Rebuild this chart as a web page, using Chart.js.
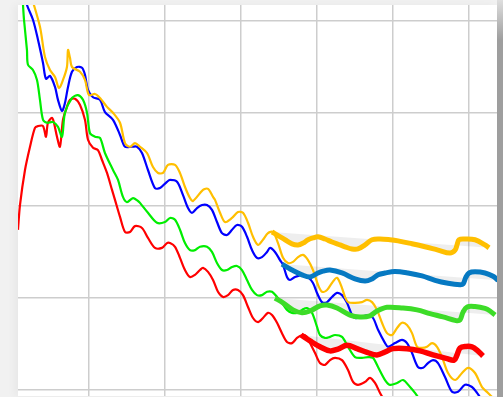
<!DOCTYPE html>
<html>
<head>
<meta charset="utf-8">
<script src="https://cdn.jsdelivr.net/npm/chart.js@4.4.1/dist/chart.umd.min.js"></script>
<style>
  html, body { margin: 0; padding: 0; }
  body { width: 503px; height: 397px; background: #f1f1f1; position: relative; overflow: hidden; }
  #edge { position: absolute; left: 497px; top: 0; width: 6px; height: 397px;
          background: linear-gradient(#dedede, #9e9e9e 40px, #9e9e9e); }
  #card { position: absolute; left: 18px; top: 5px; width: 479px; height: 391px; background: #fff;
          box-shadow: -4px 0 8px rgba(0,0,0,0.04); }
</style>
</head>
<body>
<div id="edge"></div>
<div id="card"><canvas id="lineChart" width="479" height="391"></canvas></div>
<script>
// grid positions
var xTicks = [10, 20, 30, 40, 50, 60];
var yTicks = [0, 25, 50, 75, 100];

// observed series [x, y]
var seriesYellow = [[2.41,107.0],[3.59,98.4],[4.25,90.2],[4.91,86.7],[5.57,84.8],[6.09,81.8],[6.62,84.0],[7.14,87.5],[7.28,92.1],[7.54,90.0],[7.80,87.5],[8.86,86.2],[9.51,84.0],[10.04,79.9],[10.83,80.2],[11.49,79.1],[12.41,76.7],[13.20,75.1],[14.12,72.4],[14.78,66.9],[15.43,65.9],[16.09,66.9],[16.75,65.9],[17.67,64.2],[18.46,60.4],[19.12,58.8],[19.78,58.8],[20.43,61.0],[21.36,61.0],[22.01,58.8],[22.67,55.0],[23.33,52.0],[23.72,51.2],[25.04,54.2],[25.70,54.5],[26.36,52.3],[26.62,51.5],[27.28,48.0],[27.93,45.5],[28.86,46.6],[29.64,48.2],[30.30,48.0],[30.96,45.3],[31.62,41.5],[32.28,39.3],[32.93,40.7],[33.59,42.5],[34.25,42.8],[34.91,39.8],[35.57,35.8],[36.22,34.4],[36.88,34.7],[37.54,36.0],[38.20,36.6],[38.86,35.2],[39.51,32.5],[40.17,28.5],[40.70,26.6],[41.36,27.1],[42.01,29.0],[42.67,30.4],[43.33,27.6],[43.72,25.2],[44.12,23.8],[45.04,23.6],[45.96,23.8],[46.62,24.4],[47.28,23.8],[47.93,21.7],[48.59,18.2],[49.25,15.4],[49.91,14.9],[50.57,16.8],[51.22,18.2],[51.88,17.6],[52.54,15.4],[53.20,11.7],[53.86,11.4],[54.51,11.7],[55.17,12.7],[55.83,11.7],[56.49,8.9],[57.28,4.6],[58.20,2.7],[59.12,4.6],[59.91,6.0],[60.83,4.6],[61.75,0.8],[62.54,-0.8],[63.46,-2.7]];
var seriesBlue = [[1.62,107.0],[1.88,104.3],[2.67,100.3],[3.33,94.9],[3.99,88.6],[4.38,84.3],[4.91,85.1],[5.57,82.1],[5.96,78.6],[6.49,75.6],[6.88,77.8],[7.28,82.1],[7.80,86.2],[8.46,87.5],[9.12,87.3],[9.51,85.4],[9.91,81.3],[10.57,79.3],[11.49,78.6],[12.14,75.3],[13.20,73.2],[14.12,69.1],[14.78,65.9],[15.70,65.9],[16.36,65.9],[17.01,64.2],[17.80,59.6],[18.72,54.7],[19.38,54.7],[20.30,56.4],[20.70,56.9],[21.62,56.4],[22.41,52.8],[23.07,49.3],[23.59,48.0],[24.25,49.3],[24.91,50.1],[25.57,50.1],[26.22,48.8],[26.88,45.5],[27.54,42.5],[28.20,42.0],[28.86,43.4],[29.51,44.7],[30.17,44.2],[30.83,41.5],[31.49,37.9],[32.14,35.8],[32.80,36.0],[33.46,37.4],[33.86,38.5],[34.51,37.4],[35.17,35.2],[35.57,33.9],[36.09,30.6],[36.49,29.8],[37.14,30.6],[38.20,31.2],[38.86,30.6],[39.51,29.0],[40.04,26.3],[40.70,23.8],[41.36,23.8],[42.01,25.2],[42.67,26.3],[43.33,25.7],[43.99,23.6],[44.64,20.3],[45.04,19.5],[45.96,19.8],[46.75,20.3],[47.41,19.5],[48.07,16.3],[48.99,12.7],[49.38,11.7],[50.30,12.7],[51.22,13.6],[51.88,12.7],[52.54,10.0],[53.33,6.2],[53.99,6.0],[54.64,7.3],[55.30,8.1],[55.96,7.3],[56.88,3.5],[57.80,-0.5],[58.59,-0.5],[59.51,1.4],[60.43,0.8],[61.09,-0.8],[61.75,-2.7]];
var seriesGreen = [[1.29,107.0],[1.36,104.3],[1.49,100.3],[1.88,92.1],[2.01,88.1],[2.67,86.7],[3.20,84.0],[3.59,78.6],[3.99,73.2],[4.51,72.4],[5.30,72.6],[5.96,71.3],[6.49,68.6],[6.88,75.1],[7.80,79.1],[8.59,79.9],[9.25,78.6],[9.78,75.1],[10.17,69.6],[10.83,68.6],[11.49,68.3],[12.14,64.2],[13.20,59.6],[13.86,56.9],[14.51,52.3],[15.04,50.9],[15.83,52.0],[16.49,51.2],[16.75,50.7],[17.80,48.0],[18.99,45.3],[20.04,45.5],[20.70,46.6],[21.36,46.1],[22.01,43.4],[22.67,39.8],[23.33,37.9],[23.99,37.9],[24.64,38.8],[25.57,38.8],[26.22,37.4],[26.88,34.4],[27.54,32.5],[28.20,32.5],[28.86,33.3],[29.51,33.6],[30.17,32.5],[30.83,29.8],[31.49,27.1],[32.14,25.7],[32.80,25.7],[33.46,26.6],[34.12,26.6],[34.78,25.2],[35.43,23.6],[36.09,21.7],[36.75,20.9],[37.41,20.9],[38.07,21.7],[38.72,22.2],[39.38,20.9],[40.04,17.1],[40.43,14.9],[41.09,14.1],[41.75,14.4],[42.41,14.9],[43.33,14.4],[44.12,11.7],[45.04,8.9],[45.96,8.7],[46.75,8.9],[47.41,8.7],[48.07,6.2],[48.99,2.7],[49.64,1.4],[50.57,1.9],[51.36,2.7],[52.28,0.8],[52.93,-0.8],[53.59,-2.7]];
var seriesRed = [[0.70,43.4],[0.96,50.1],[1.62,59.6],[2.28,65.9],[2.93,71.0],[3.33,71.5],[3.99,71.5],[4.38,68.6],[4.64,72.4],[5.17,73.7],[5.43,72.4],[5.83,68.6],[6.22,65.9],[6.62,73.2],[7.14,76.7],[7.54,78.6],[8.20,78.9],[8.86,77.2],[9.51,73.2],[9.91,67.8],[10.57,65.6],[11.22,65.0],[11.75,62.3],[12.41,58.8],[13.07,54.2],[13.46,51.5],[14.12,46.9],[14.78,42.8],[15.43,42.8],[16.09,44.4],[17.01,43.9],[17.80,41.2],[18.72,38.5],[19.64,38.5],[20.30,39.8],[20.70,39.8],[21.36,38.8],[22.01,35.8],[22.67,32.5],[23.33,30.6],[23.99,31.2],[24.64,32.5],[25.04,33.1],[25.70,32.0],[26.36,29.8],[27.01,26.6],[27.67,25.2],[28.33,25.7],[28.99,27.1],[29.64,27.1],[30.30,25.7],[30.96,22.5],[31.62,19.5],[32.28,18.4],[32.93,19.5],[33.59,20.9],[34.12,20.3],[34.78,18.2],[35.43,15.4],[36.09,13.0],[36.75,12.7],[37.41,14.1],[38.07,14.9],[38.72,14.4],[39.12,12.7],[39.78,10.0],[40.43,7.3],[41.09,6.8],[41.75,8.1],[42.41,8.7],[43.33,8.1],[44.12,5.4],[44.78,2.2],[45.43,1.4],[46.36,2.2],[47.01,3.3],[47.67,1.9],[48.33,-0.8],[48.86,-2.7]];

// forecast series [x, y]
var forecastYellow = [[34.12,42.8],[35.04,41.7],[35.83,40.7],[36.75,39.6],[37.54,39.3],[38.20,39.8],[38.86,40.7],[39.51,41.2],[40.17,41.5],[41.09,40.9],[42.01,40.1],[43.07,39.3],[43.72,38.8],[44.64,38.2],[45.43,38.2],[46.36,39.3],[47.28,40.7],[48.33,40.9],[49.64,40.7],[50.70,40.4],[52.54,39.6],[54.24,38.8],[55.96,37.9],[57.54,37.1],[58.20,37.9],[58.46,39.3],[58.72,40.7],[59.51,40.9],[60.83,40.7],[62.14,39.3],[62.67,38.5]];
var forecastBlue = [[35.43,34.1],[36.09,33.3],[36.75,32.5],[38.07,31.2],[39.12,30.6],[40.17,31.7],[40.83,32.2],[41.75,32.5],[43.33,31.7],[45.04,30.1],[46.36,29.5],[47.28,30.1],[48.07,31.2],[48.99,31.7],[50.30,32.1],[52.01,31.7],[53.86,30.9],[55.57,29.7],[57.28,28.9],[58.86,28.5],[59.25,28.7],[59.64,30.6],[60.04,31.7],[60.83,32.0],[62.14,31.7],[63.20,30.8],[63.86,29.7]];
var forecastGreen = [[34.51,24.9],[35.57,23.6],[36.88,21.7],[38.07,20.9],[39.12,21.4],[40.43,22.8],[41.36,23.0],[42.67,22.2],[44.38,20.3],[45.70,19.8],[47.01,20.1],[47.93,21.4],[49.25,22.4],[51.36,22.2],[53.20,21.7],[54.91,20.7],[56.62,19.8],[58.33,18.8],[58.86,19.0],[59.25,21.1],[59.78,22.5],[60.83,22.6],[62.14,22.1],[62.80,21.4],[63.46,20.3]];
var forecastRed = [[37.93,14.9],[39.12,13.3],[40.43,11.7],[41.75,10.6],[42.80,11.1],[43.99,12.1],[45.30,11.2],[46.62,10.2],[47.93,9.5],[48.99,10.3],[50.04,11.2],[51.88,11.2],[53.59,10.6],[55.30,9.5],[57.14,8.5],[58.07,8.1],[58.46,9.5],[58.86,11.4],[59.64,11.8],[60.43,11.7],[61.09,10.8],[61.88,9.2]];

function pts(arr) {
  return arr.map(function (p) { return { x: p[0], y: p[1] }; });
}

document.addEventListener('DOMContentLoaded', function () {
  var ctx = document.getElementById('lineChart').getContext('2d');

  var observed = [
    { data: seriesYellow, color: '#ffbf00' },
    { data: seriesBlue, color: '#0000ff' },
    { data: seriesGreen, color: '#00ee00' },
    { data: seriesRed, color: '#ff0000' }
  ];
  var forecasts = [
    { data: forecastYellow, color: '#ffbf00', width: 5 },
    { data: forecastBlue, color: '#0679c2', width: 5 },
    { data: forecastGreen, color: '#3ddc28', width: 5 },
    { data: forecastRed, color: '#ff0000', width: 5.5 }
  ];

  var datasets = [];
  forecasts.forEach(function (f) {
    datasets.push({
      data: pts(f.data),
      borderColor: f.color,
      borderWidth: f.width,
      pointRadius: 0,
      tension: 0.35,
      order: 0
    });
  });
  observed.forEach(function (s) {
    datasets.push({
      data: pts(s.data),
      borderColor: s.color,
      borderWidth: 2.2,
      pointRadius: 0,
      tension: 0.3,
      order: 1
    });
  });
  // shaded spread between each forecast and its straight start-to-end line
  forecasts.forEach(function (f, i) {
    var first = f.data[0], last = f.data[f.data.length - 1];
    datasets.push({
      data: pts([first, last]),
      borderWidth: 0,
      borderColor: 'rgba(0,0,0,0)',
      pointRadius: 0,
      fill: { target: i },
      backgroundColor: 'rgba(0,0,0,0.065)',
      order: 2
    });
  });

  var gridOpts = { color: '#cdcdcd', lineWidth: 1.5, drawTicks: false };

  new Chart(ctx, {
    type: 'line',
    data: { datasets: datasets },
    options: {
      responsive: false,
      animation: false,
      events: [],
      layout: { padding: 0, autoPadding: false },
      plugins: { legend: { display: false }, tooltip: { enabled: false } },
      scales: {
        x: {
          type: 'linear',
          min: 0.7,
          max: 63.72,
          grid: gridOpts,
          border: { display: false },
          ticks: { display: false },
          afterBuildTicks: function (scale) {
            scale.ticks = xTicks.map(function (v) { return { value: v }; });
          }
        },
        y: {
          type: 'linear',
          min: -1.63,
          max: 104.3,
          grid: gridOpts,
          border: { display: false },
          ticks: { display: false },
          afterBuildTicks: function (scale) {
            scale.ticks = yTicks.map(function (v) { return { value: v }; });
          }
        }
      }
    }
  });
});
</script>
</body>
</html>
